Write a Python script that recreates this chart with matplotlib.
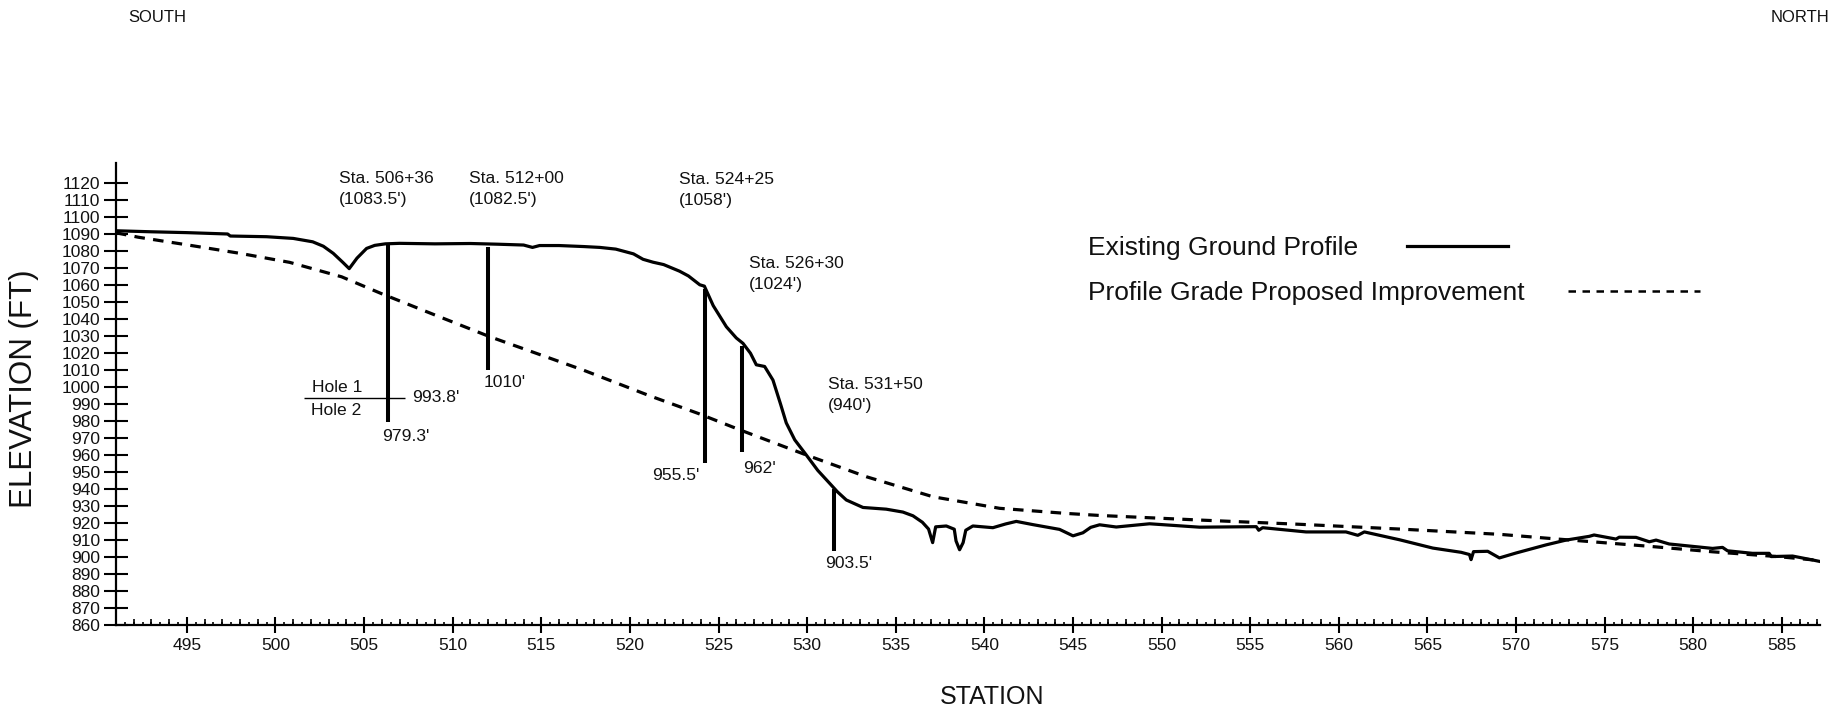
import matplotlib
matplotlib.use('Agg')
import matplotlib.pyplot as plt
from matplotlib.ticker import MultipleLocator
from matplotlib.lines import Line2D
import numpy as np

plt.rcParams['font.family'] = ['Liberation Sans', 'DejaVu Sans']

# Existing ground profile (station x100 ft, elevation ft)
ground_sta = [491.0, 493.0, 495.0, 497.3, 497.45, 499.5, 501.0, 502.1, 502.7, 503.26,
              503.8, 504.16, 504.6, 505.14, 505.6, 506.2, 507.0, 509.0, 511.0, 512.5,
              514.0, 514.5, 514.9, 516.0, 517.4, 518.3, 519.2, 520.2, 520.74, 521.3,
              521.9, 522.8, 523.3, 523.94, 524.2, 524.7, 525.44, 526.0, 526.38, 526.8,
              527.13, 527.6, 528.07, 528.5, 528.82, 529.3, 529.95, 530.6, 531.27, 531.7,
              532.21, 533.15, 534.46, 535.4, 535.97, 536.5, 536.85, 537.08, 537.25, 537.85,
              538.3, 538.4, 538.6, 538.8, 538.95, 539.35, 540.48, 541.2, 541.8, 542.74,
              544.24, 545.0, 545.56, 546.0, 546.5, 547.44, 549.32, 552.14, 555.34, 555.48,
              555.7, 558.15, 560.4, 561.07, 561.44, 563.42, 565.3, 566.9, 567.37, 567.46,
              567.6, 568.4, 569.06, 570.0, 571.7, 572.82, 574.13, 574.4, 575.64, 575.82,
              576.77, 577.52, 577.9, 578.64, 581.09, 581.65, 581.93, 583.34, 584.28, 584.4,
              585.6, 586.73, 587.1]
ground_elev = [1092.1, 1091.5, 1091.0, 1090.2, 1089.0, 1088.6, 1087.6, 1085.6, 1083.0, 1078.8,
               1073.5, 1069.8, 1076.0, 1081.7, 1083.5, 1084.4, 1084.7, 1084.4, 1084.6, 1084.2,
               1083.7, 1082.3, 1083.4, 1083.4, 1082.8, 1082.3, 1081.3, 1078.5, 1075.3, 1073.6,
               1072.2, 1068.3, 1065.5, 1060.3, 1059.5, 1048.0, 1035.6, 1029.0, 1025.8, 1020.0,
               1013.2, 1012.2, 1004.2, 990.0, 979.0, 969.0, 960.1, 951.0, 943.4, 938.5,
               933.6, 929.2, 928.2, 926.5, 924.3, 920.5, 916.5, 908.5, 917.8, 918.3,
               916.4, 909.5, 904.3, 908.5, 915.8, 918.3, 917.3, 919.5, 921.0, 919.1,
               916.3, 912.5, 914.3, 917.5, 919.0, 917.7, 919.6, 917.6, 917.9, 915.8,
               917.3, 914.8, 914.8, 912.8, 914.8, 910.2, 905.3, 902.8, 901.5, 898.5,
               903.2, 903.4, 899.5, 902.4, 907.2, 910.0, 912.2, 913.0, 910.6, 911.7,
               911.6, 909.0, 910.0, 907.7, 905.1, 905.7, 903.7, 902.2, 902.2, 900.3,
               900.6, 898.3, 897.5]

# Profile grade of proposed improvement
grade_sta = [491.0, 492.26, 495.08, 498.0, 500.8, 503.73, 506.0, 509.0, 512.1, 517.36,
             521.1, 523.84, 526.3, 529.95, 533.34, 537.1, 540.86, 544.62, 546.5, 552.14,
             557.78, 563.42, 569.06, 571.88, 573.7, 577.33, 581.09, 584.85, 587.1]
grade_elev = [1090.9, 1088.3, 1083.7, 1078.8, 1073.5, 1065.0, 1055.0, 1042.5, 1029.7, 1010.1,
              995.0, 984.6, 974.5, 960.1, 947.3, 935.5, 928.7, 925.7, 924.5, 921.8,
              919.3, 916.5, 913.4, 911.0, 909.5, 906.5, 903.1, 900.2, 898.0]

# Borings
bore_names = ['Sta. 506+36', 'Sta. 512+00', 'Sta. 524+25', 'Sta. 526+30', 'Sta. 531+50']
bore_sta = [506.36, 512.00, 524.25, 526.30, 531.50]
bore_top = [1083.5, 1082.5, 1058.0, 1024.0, 940.0]
bore_bottom = [979.3, 1010.0, 955.5, 962.0, 903.5]
hole_split = 993.8

# label placement
top_label_xy = [(503.6, 1116.4), (510.9, 1116.4), (522.75, 1116.0), (526.7, 1066.7), (531.16, 995.4)]
bottom_label_off = [(-0.37, -8.5, 'left'), (-0.28, -7.2, 'left'), (-0.31, -7.2, 'right'),
                    (0.08, -9.8, 'left'), (-0.47, -7.2, 'left')]

txt = '#111111'

fig = plt.figure(figsize=(18.41, 7.13), dpi=100)
ax = fig.add_axes([0.0630, 0.1234, 0.9256, 0.6480])

ground_line, = ax.plot(ground_sta, ground_elev, color='black', lw=2.3, solid_joinstyle='round')
ax.plot(grade_sta, grade_elev, color='black', lw=2.3, dashes=(3.3, 2.6))

ax.vlines(bore_sta, bore_bottom, bore_top, color='black', lw=2.9)

for i in range(len(bore_sta)):
    x, y = top_label_xy[i]
    ax.text(x, y, '%s\n(%g\')' % (bore_names[i], bore_top[i]), fontsize=12.6, color=txt,
            ha='left', va='center', linespacing=1.5)
    dx, dy, ha = bottom_label_off[i]
    ax.text(bore_sta[i] + dx, bore_bottom[i] + dy, '%g\'' % bore_bottom[i], fontsize=12.6,
            color=txt, ha=ha, va='center')

# hole 1 / hole 2 split at first boring
s0 = bore_sta[0]
ax.hlines(hole_split, s0 - 4.76, s0 + 0.94, color='black', lw=1.0)
ax.text(s0 - 4.29, hole_split + 6.1, 'Hole 1', fontsize=12.6, color=txt, ha='left', va='center')
ax.text(s0 - 4.36, hole_split - 7.8, 'Hole 2', fontsize=12.6, color=txt, ha='left', va='center')
ax.text(s0 + 1.34, hole_split + 0.2, '%g\'' % hole_split, fontsize=12.6, color=txt, ha='left', va='center')

ax.set_xlim(491, 587.15)
ax.set_ylim(860, 1132)
ax.set_yticks(np.arange(860, 1121, 10))
ax.xaxis.set_major_locator(MultipleLocator(5))
ax.xaxis.set_minor_locator(MultipleLocator(0.5))

for side in ['top', 'right']:
    ax.spines[side].set_visible(False)
for side in ['left', 'bottom']:
    ax.spines[side].set_linewidth(1.6)

ax.tick_params(axis='y', direction='inout', length=17, width=1.5, pad=3, labelsize=12.5, labelcolor=txt)
ax.tick_params(axis='x', which='major', direction='inout', length=11, width=1.5, pad=4,
               labelsize=12.5, labelcolor=txt)
ax.tick_params(axis='x', which='minor', direction='in', length=2.2, width=1.2)

# taller ticks at each whole station
sec = ax.secondary_xaxis('bottom')
sec.xaxis.set_major_locator(MultipleLocator(1))
sec.tick_params(direction='in', length=4.5, width=1.2, labelbottom=False)
sec.spines['bottom'].set_visible(False)

fig.text(0.0133, 0.4545, 'ELEVATION (FT)', rotation=90, ha='center', va='center', fontsize=22.5, color=txt)
fig.text(0.5388, 0.0224, 'STATION', ha='center', va='center', fontsize=18, color=txt)
fig.text(0.0853, 0.9753, 'SOUTH', ha='center', va='center', fontsize=12, color=txt)
fig.text(0.978, 0.9753, 'NORTH', ha='center', va='center', fontsize=12, color=txt)

leg1 = ax.legend([ground_line], ['Existing Ground Profile'], loc='center left',
                 bbox_to_anchor=(1088 / 1841, 0.6522), bbox_transform=fig.transFigure,
                 frameon=False, markerfirst=False, handlelength=3.83, handletextpad=1.86,
                 borderpad=0, borderaxespad=0, fontsize=19, labelcolor=txt)
ax.add_artist(leg1)
grade_key = Line2D([], [], color='black', lw=1.8, dashes=(3.0, 2.6))
ax.legend([grade_key], ['Profile Grade Proposed Improvement'], loc='center left',
          bbox_to_anchor=(1088 / 1841, 0.5884), bbox_transform=fig.transFigure,
          frameon=False, markerfirst=False, handlelength=5.0, handletextpad=1.63,
          borderpad=0, borderaxespad=0, fontsize=19, labelcolor=txt)

fig.savefig('out.png', dpi=100)
